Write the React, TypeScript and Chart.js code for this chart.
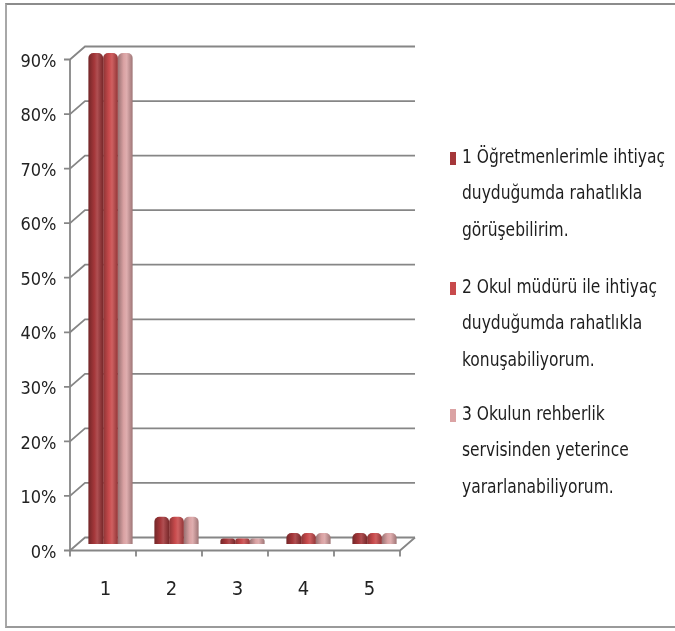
import React, { useEffect, useRef } from "react";
import { Chart, registerables } from "chart.js";

Chart.register(...registerables);

const categories = ["1", "2", "3", "4", "5"];
const seriesLabels: string[][] = [
  ["1 Öğretmenlerimle ihtiyaç", "duyduğumda rahatlıkla", "görüşebilirim."],
  ["2 Okul müdürü ile ihtiyaç", "duyduğumda rahatlıkla", "konuşabiliyorum."],
  ["3 Okulun rehberlik", "servisinden yeterince", "yararlanabiliyorum."],
];
const series1 = [90, 5, 1, 2, 2];
const series2 = [90, 5, 1, 2, 2];
const series3 = [90, 5, 1, 2, 2];
const yTicks = [0, 10, 20, 30, 40, 50, 60, 70, 80, 90];

const seriesColors = ["#a5373a", "#c84a4c", "#dba3a4"];
const FONT = "'Liberation Sans Narrow', 'DejaVu Sans Condensed', 'Roboto', sans-serif";
const DX = 7.5;
const DY = 6.5;
const GRID = "#868686";

function shade(hex: string, f: number) {
  const n = parseInt(hex.slice(1), 16);
  let r = (n >> 16) & 255, g = (n >> 8) & 255, b = n & 255;
  const adj = (c: number) => Math.max(0, Math.min(255, Math.round(f < 0 ? c * (1 + f) : c + (255 - c) * f)));
  r = adj(r); g = adj(g); b = adj(b);
  return `rgb(${r},${g},${b})`;
}

const wallsPlugin = {
  id: "walls3d",
  beforeDatasetsDraw(chart: any) {
    const { ctx, chartArea, scales } = chart;
    const ys = scales.y;
    const { left, right, bottom, top } = chartArea;
    ctx.save();
    ctx.strokeStyle = GRID;
    ctx.lineWidth = 1.8;
    yTicks.forEach((v) => {
      const y = ys.getPixelForValue(v);
      ctx.beginPath();
      ctx.moveTo(left - DX - 6, y + DY);
      ctx.lineTo(left - DX, y + DY);
      ctx.lineTo(left + DX, y - DY);
      ctx.lineTo(right + DX, y - DY);
      ctx.stroke();
    });
    ctx.beginPath();
    ctx.moveTo(left - DX, bottom + DY);
    ctx.lineTo(left - DX, top + DY);
    ctx.stroke();
    ctx.beginPath();
    ctx.moveTo(left - DX, bottom + DY);
    ctx.lineTo(right - DX, bottom + DY);
    ctx.lineTo(right + DX, bottom - DY);
    ctx.stroke();
    const n = categories.length;
    const w = (right - left) / n;
    for (let i = 0; i <= n; i++) {
      const x = left + w * i - DX;
      ctx.beginPath();
      ctx.moveTo(x, bottom + DY);
      ctx.lineTo(x, bottom + DY + 6);
      ctx.stroke();
    }
    ctx.restore();

    chart.data.datasets.forEach((ds: any, di: number) => {
      const meta = chart.getDatasetMeta(di);
      const base = seriesColors[di];
      meta.data.forEach((el: any) => {
        const { x, width } = el.getProps(["x", "width"], true);
        const g = ctx.createLinearGradient(x - width / 2, 0, x + width / 2, 0);
        g.addColorStop(0, shade(base, -0.3));
        g.addColorStop(0.4, base);
        g.addColorStop(0.6, shade(base, 0.12));
        g.addColorStop(1, shade(base, -0.28));
        el.options = Object.assign({}, el.options, { backgroundColor: g });
      });
    });
  },
};

const legendPlugin = {
  id: "legendCustom",
  afterDraw(chart: any) {
    const { ctx } = chart;
    const groupTops = [158, 288, 415];
    const lineStep = 36.5;
    const textX = 462;
    const maxW = 203;
    ctx.save();
    ctx.font = `19px ${FONT}`;
    ctx.textBaseline = "middle";
    ctx.textAlign = "left";
    let widest = 0;
    seriesLabels.forEach((lines) => lines.forEach((t) => {
      widest = Math.max(widest, ctx.measureText(t).width);
    }));
    const sx = Math.min(1, maxW / widest);
    seriesLabels.forEach((lines, i) => {
      const y0 = groupTops[i];
      ctx.fillStyle = seriesColors[i];
      ctx.fillRect(450, y0 - 6, 6, 13);
      ctx.fillStyle = "#1e1e1e";
      lines.forEach((t, j) => {
        ctx.save();
        ctx.translate(textX, y0 + j * lineStep);
        ctx.scale(sx, 1);
        ctx.fillText(t, 0, 0);
        ctx.restore();
      });
    });
    ctx.restore();
  },
};

export default function App() {
  const ref = useRef<HTMLCanvasElement | null>(null);

  useEffect(() => {
    document.body.style.margin = "0";
    const canvas = ref.current;
    if (!canvas) return;
    const chart = new Chart(canvas, {
      type: "bar",
      data: {
        labels: categories,
        datasets: [series1, series2, series3].map((d, i) => ({
          label: seriesLabels[i].join(" "),
          data: d,
          backgroundColor: seriesColors[i],
          borderWidth: 0,
          borderRadius: { topLeft: 5, topRight: 5, bottomLeft: 0, bottomRight: 0 },
          borderSkipped: false,
          categoryPercentage: 0.67,
          barPercentage: 1.0,
        })),
      },
      options: {
        responsive: false,
        animation: false,
        layout: { padding: { top: 53, right: 267.5, bottom: 0, left: 0 } },
        plugins: {
          legend: { display: false },
          tooltip: { enabled: false },
        },
        scales: {
          x: {
            grid: { display: false, drawTicks: false },
            border: { display: false },
            ticks: {
              font: { family: FONT, size: 20 },
              color: "#222",
              padding: 34,
              labelOffset: -5,
            },
            afterFit: (s: any) => {
              s.height = 87;
            },
          },
          y: {
            min: 0,
            max: 90,
            grid: { display: false, drawTicks: false },
            border: { display: false },
            ticks: {
              stepSize: 10,
              font: { family: FONT, size: 18 },
              color: "#222",
              padding: 21,
              labelOffset: 9,
              callback: (v: any) => `${v}%`,
            },
            afterFit: (s: any) => {
              s.width = 77.5;
            },
          },
        },
      },
      plugins: [wallsPlugin, legendPlugin],
    });
    return () => chart.destroy();
  }, []);

  return (
    <div style={{ position: "relative", width: 675, height: 631, overflow: "hidden", background: "#fff" }}>
      <div
        style={{
          position: "absolute",
          left: 5,
          top: 3,
          width: 800,
          height: 625,
          borderTop: "2px solid #8c8c8c",
          borderLeft: "2px solid #a8a8a8",
          borderBottom: "2px solid #9a9a9a",
          borderRight: "none",
          boxSizing: "border-box",
        }}
      />
      <canvas ref={ref} width={675} height={631} style={{ position: "absolute", left: 0, top: 0 }} />
    </div>
  );
}
